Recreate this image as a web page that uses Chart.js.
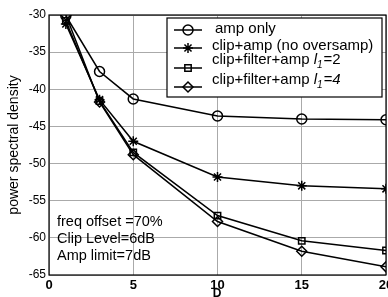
<!DOCTYPE html>
<html lang="en">
<head>
<meta charset="UTF-8">
<title>power spectral density vs D</title>
<script src="https://cdn.jsdelivr.net/npm/chart.js"></script>
<style>
  html, body { margin: 0; padding: 0; background: #fff; overflow: hidden; }
  #wrap { width: 400px; height: 297px; }
</style>
</head>
<body>
<div id="wrap"><canvas id="psd" width="400" height="297"></canvas></div>
<script>
// values
const dValues   = [1, 3, 5, 10, 15, 20];
const ampOnly   = [-30.1, -37.6, -41.3, -43.6, -44.0, -44.1];
const clipAmp   = [-31.2, -41.4, -47.0, -51.8, -53.0, -53.4];
const clipFilt2 = [-30.8, -41.6, -48.5, -57.0, -60.4, -61.7];
const clipFilt4 = [-30.0, -41.7, -48.8, -57.8, -61.8, -63.9];
const xTicks = [0, 5, 10, 15, 20];
const yTicks = [-30, -35, -40, -45, -50, -55, -60, -65];

const series = [
  { label: 'amp only', values: ampOnly, style: 'circle', r: 5 },
  { label: 'clip+amp (no oversamp)', values: clipAmp, style: 'star', r: 5 },
  { label: 'clip+filter+amp ', values: clipFilt2, style: 'rect', r: 4.5, sub: '=2' },
  { label: 'clip+filter+amp ', values: clipFilt4, style: 'rectRot', r: 5, sub: '=4' }
];

const FONT = '"Liberation Sans", Arial, sans-serif';

// box around the axes + legend + annotation text
const extras = {
  id: 'extras',
  afterDraw(chart) {
    const ctx = chart.ctx;
    const a = chart.chartArea;
    ctx.save();
    ctx.strokeStyle = '#000';
    ctx.lineWidth = 1.2;
    ctx.strokeRect(a.left, a.top, a.right - a.left, a.bottom - a.top);

    // legend box
    const lx = 167, ly = 18, lw = 215, lh = 79;
    ctx.fillStyle = '#fff';
    ctx.fillRect(lx, ly, lw, lh);
    ctx.strokeRect(lx, ly, lw, lh);
    const rowY = [30, 48, 68, 87];
    const textY = [29, 46, 60, 80];
    series.forEach((s, i) => {
      ctx.strokeStyle = '#000';
      ctx.lineWidth = 1.5;
      ctx.beginPath();
      ctx.moveTo(174, rowY[i]);
      ctx.lineTo(202, rowY[i]);
      ctx.stroke();
      ctx.fillStyle = 'rgba(0,0,0,0)';
      Chart.helpers.drawPoint(ctx, {
        pointStyle: s.style, radius: s.r, rotation: 0, borderWidth: 1.5
      }, 188, rowY[i]);
      ctx.fillStyle = '#000';
      ctx.textBaseline = 'middle';
      ctx.font = '15px ' + FONT;
      let tx = i === 0 ? 215 : 212;
      ctx.fillText(s.label, tx, textY[i]);
      if (s.sub) {
        tx += ctx.measureText(s.label).width;
        ctx.font = 'italic 15px ' + FONT;
        ctx.fillText('l', tx, textY[i]);
        tx += ctx.measureText('l').width;
        ctx.font = 'italic 10px ' + FONT;
        ctx.fillText('1', tx, textY[i] + 5);
        tx += ctx.measureText('1').width + 1;
        ctx.font = (i === 3 ? 'italic ' : '') + '15px ' + FONT;
        ctx.fillText(s.sub, tx, textY[i]);
      }
    });

    // annotation
    ctx.font = '14.5px ' + FONT;
    ctx.fillText('freq offset =70%', 57, 222);
    ctx.fillText('Clip Level=6dB', 57, 239);
    ctx.fillText('Amp limit=7dB', 57, 256);

    // x axis title (cut off by the bottom edge)
    ctx.font = 'bold 12px ' + FONT;
    ctx.textAlign = 'center';
    ctx.textBaseline = 'top';
    ctx.fillText('D', 217, 288);
    ctx.restore();
  }
};

new Chart(document.getElementById('psd'), {
  type: 'scatter',
  data: {
    datasets: series.map(s => ({
      label: s.label,
      data: dValues.map((d, i) => ({ x: d, y: s.values[i] })),
      showLine: true,
      borderColor: '#000',
      borderWidth: 1.5,
      pointStyle: s.style,
      pointRadius: s.r,
      pointBorderWidth: 1.5,
      pointBorderColor: '#000',
      pointBackgroundColor: 'rgba(0,0,0,0)'
    }))
  },
  options: {
    responsive: false,
    animation: false,
    layout: { padding: { top: 15, right: 14, left: 0, bottom: 0 } },
    plugins: { legend: { display: false }, tooltip: { enabled: false } },
    scales: {
      x: {
        type: 'linear', min: 0, max: 20,
        afterBuildTicks: sc => { sc.ticks = xTicks.map(v => ({ value: v })); },
        afterFit: sc => { sc.height = 22; },
        grid: { color: '#aaa', borderDash: [1, 4], drawTicks: false },
        border: { display: false },
        ticks: { color: '#000', padding: 3, font: { family: FONT, size: 13, weight: 'bold' } }
      },
      y: {
        min: -65, max: -30,
        afterBuildTicks: sc => { sc.ticks = yTicks.map(v => ({ value: v })); },
        afterFit: sc => { sc.width = 49; },
        grid: { color: '#aaa', borderDash: [1, 4], drawTicks: false },
        border: { display: false },
        title: { display: true, text: 'power spectral density', color: '#000',
                 padding: { top: 6, bottom: 0 }, font: { family: FONT, size: 14 } },
        ticks: { color: '#000', padding: 3, font: { family: FONT, size: 12 } }
      }
    }
  },
  plugins: [extras]
});
</script>
</body>
</html>
